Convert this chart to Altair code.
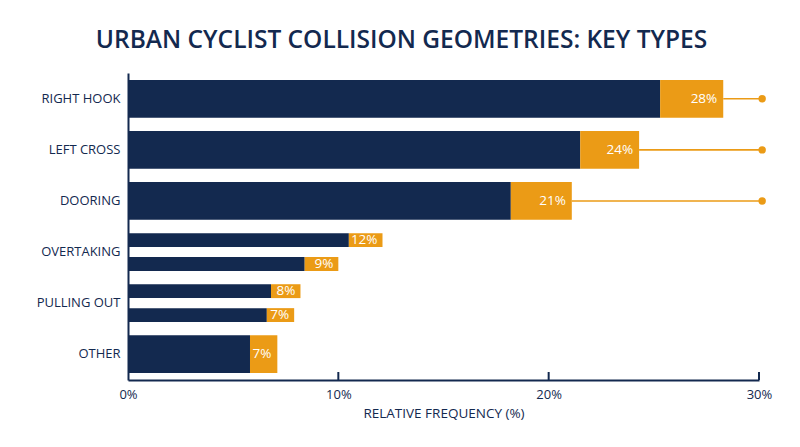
import altair as alt
import pandas as pd

# ---- data ----
categories = ["RIGHT HOOK", "LEFT CROSS", "DOORING", "OVERTAKING", "PULLING OUT", "OTHER"]
bar_category = ["RIGHT HOOK", "LEFT CROSS", "DOORING", "OVERTAKING", "OVERTAKING",
                "PULLING OUT", "PULLING OUT", "OTHER"]
bar_sub = ["a", "a", "a", "a", "b", "a", "b", "a"]
bar_split = [False, False, False, True, True, True, True, False]
base_values = [25.3, 21.5, 18.2, 10.5, 8.4, 6.8, 6.6, 5.8]
total_values = [28.3, 24.3, 21.1, 12.1, 10.0, 8.2, 7.9, 7.1]
bar_labels = ["28%", "24%", "21%", "12%", "9%", "8%", "7%", "7%"]
leader_category = ["RIGHT HOOK", "LEFT CROSS", "DOORING"]
leader_start = [28.3, 24.3, 21.1]
leader_end = [30.15, 30.15, 30.15]
tick_values = [10, 20, 30]
axis_values = [0, 10, 20, 30]

NAVY = "#13294f"
ORANGE = "#eb9b16"
FONT = "Open Sans"
W, H = 631, 307

df = pd.DataFrame({
    "cat": bar_category, "sub": bar_sub, "split": bar_split,
    "base": base_values, "total": total_values, "label": bar_labels,
})
lead = pd.DataFrame({"cat": leader_category, "start": leader_start, "end": leader_end})
ticks = pd.DataFrame({"t": tick_values})

xscale = alt.Scale(domain=[0, 30], nice=False)
yscale = alt.Scale(domain=categories, paddingInner=0.26, paddingOuter=0.135)
xaxis = alt.Axis(values=axis_values, labelExpr="datum.value + '%'", ticks=False,
                 grid=False, domainColor=NAVY, domainWidth=2, labelColor=NAVY,
                 labelFontSize=13, labelFont=FONT, labelPadding=8, labelFlush=False,
                 title="RELATIVE FREQUENCY (%)", titleColor=NAVY, titleFont=FONT,
                 titleFontSize=13.5, titleFontWeight="normal", titlePadding=5)
yaxis = alt.Axis(ticks=False, grid=False, domainColor=NAVY, domainWidth=2,
                 labelColor=NAVY, labelFontSize=13, labelFont=FONT, labelPadding=8,
                 labelFontWeight=500, title=None)

X = alt.X("base:Q", scale=xscale, axis=xaxis)
Y = alt.Y("cat:N", scale=yscale, axis=yaxis, sort=categories)
yoff = alt.YOffset("sub:N", scale=alt.Scale(paddingInner=0.42, paddingOuter=0))

single = alt.Chart(df).transform_filter("!datum.split")
split = alt.Chart(df).transform_filter("datum.split")

navy1 = single.mark_bar(color=NAVY).encode(x=X, y=Y)
orange1 = single.mark_bar(color=ORANGE).encode(x="base:Q", x2="total:Q", y=Y)
text1 = single.mark_text(align="right", baseline="middle", dx=-6, color="white",
                         fontSize=13.5, font=FONT).encode(x="total:Q", y=Y, text="label:N")

navy2 = split.mark_bar(color=NAVY).encode(x=X, y=Y, yOffset=yoff)
orange2 = split.mark_bar(color=ORANGE).encode(x="base:Q", x2="total:Q", y=Y, yOffset=yoff)
text2 = split.mark_text(align="right", baseline="middle", dx=-5, color="white",
                        fontSize=13.5, font=FONT).encode(x="total:Q", y=Y, yOffset=yoff,
                                                         text="label:N")

leaders = alt.Chart(lead).mark_rule(color=ORANGE, strokeWidth=1.6).encode(
    x="start:Q", x2="end:Q", y=Y)
dots = alt.Chart(lead).mark_circle(color=ORANGE, opacity=1, size=55).encode(
    x="end:Q", y=Y)

tickmarks = alt.Chart(ticks).mark_rule(color=NAVY, strokeWidth=2).encode(
    x="t:Q", y=alt.value(H - 8), y2=alt.value(H))

chart = alt.layer(
    navy1, orange1, navy2, orange2, leaders, dots, text1, text2, tickmarks
).properties(
    width=W, height=H,
    background="white",
    autosize=alt.AutoSizeParams(type="none"),
    padding={"left": 120, "top": 65, "right": 33, "bottom": 59},
    title=alt.TitleParams(
        "URBAN CYCLIST COLLISION GEOMETRIES: KEY TYPES",
        font=FONT, fontSize=24.5, fontWeight=600, color=NAVY,
        anchor="middle", frame="group", dx=-42, offset=20,
    ),
).configure_view(stroke=None)

chart.save("out.html", embed_options={"renderer": "svg", "actions": False})
